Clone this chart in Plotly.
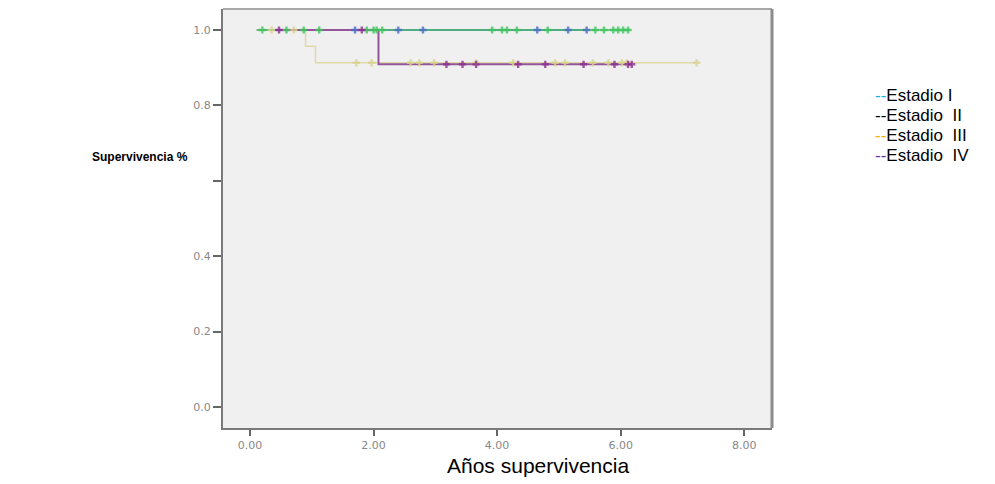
import plotly.graph_objects as go

# ---- data ----
groups = ["Estadio I", "Estadio II", "Estadio III", "Estadio IV"]

# step curves: time points and survival after each point
blue_t = [0.11, 5.45]
blue_s = [1.0, 1.0]
blue_ct = [1.70, 2.40, 2.80, 4.65, 5.15, 5.45]
blue_cs = [1.0, 1.0, 1.0, 1.0, 1.0, 1.0]

green_t = [0.11, 6.15]
green_s = [1.0, 1.0]
green_ct = [0.20, 0.59, 0.87, 1.12, 1.89, 2.00, 2.05, 2.14, 3.92, 4.08, 4.16,
            4.32, 4.82, 5.59, 5.73, 5.88, 5.96, 6.04, 6.12]
green_cs = [1.0] * len(green_ct)

yellow_t = [0.11, 0.90, 1.06, 7.23]
yellow_s = [1.0, 0.957, 0.913, 0.913]
yellow_ct = [0.35, 0.71, 1.72, 1.97, 2.60, 2.74, 2.98, 3.66, 4.26, 4.94, 5.10,
             5.55, 5.80, 6.02, 6.10, 7.23]
yellow_cs = [1.0, 1.0] + [0.913] * 14

purple_t = [0.40, 2.08, 6.18]
purple_s = [1.0, 0.909, 0.909]
purple_ct = [0.47, 1.81, 3.18, 3.44, 3.66, 4.34, 4.78, 5.40, 5.90, 6.12, 6.18]
purple_cs = [1.0, 1.0] + [0.909] * 9

x_ticks = [0, 2, 4, 6, 8]
x_tick_labels = ["0.00", "2.00", "4.00", "6.00", "8.00"]
y_ticks = [0.0, 0.2, 0.4, 0.6, 0.8, 1.0]
y_tick_labels = ["0.0", "0.2", "0.4", "", "0.8", "1.0"]

legend_dash_colors = ["#1aaee8", "#000000", "#f2b100", "#7030a0"]
legend_labels = ["Estadio I", "Estadio  II", "Estadio  III", "Estadio  IV"]

# ---- figure ----
fig = go.Figure()

series = [
    (blue_t, blue_s, blue_ct, blue_cs, "#4a6cc4", "#4a6cc4", 1.5),
    (yellow_t, yellow_s, yellow_ct, yellow_cs, "#dedaa8", "#d8d28e", 1.5),
    (green_t, green_s, green_ct, green_cs, "#45b76a", "#3fc45c", 1.5),
    (purple_t, purple_s, purple_ct, purple_cs, "#94549a", "#8a2f8e", 2),
]
for t, s, ct, cs, lc, mc, w in series:
    fig.add_trace(go.Scatter(x=t, y=s, mode="lines", line=dict(color=lc, width=w, shape="hv"),
                             hoverinfo="skip", showlegend=False))
for t, s, ct, cs, lc, mc, w in series:
    fig.add_trace(go.Scatter(x=ct, y=cs, mode="markers",
                             marker=dict(symbol="cross", size=6, color=mc, opacity=0.8),
                             hoverinfo="skip", showlegend=False))

x0, x1 = -0.437, 8.45
y0, y1 = -0.0557, 1.0557

fig.update_layout(
    width=995, height=484,
    margin=dict(l=223, r=223, t=9, b=56),
    paper_bgcolor="white", plot_bgcolor="#f0f0f0",
    showlegend=False,
    font=dict(family="Liberation Sans, Arial, sans-serif"),
    xaxis=dict(range=[x0, x1], tickvals=x_ticks, ticktext=x_tick_labels,
               showgrid=False, zeroline=False, showline=True, linecolor="#7a7a7a", linewidth=2,
               ticks="outside", ticklen=6, tickwidth=2, tickcolor="#666",
               tickfont=dict(family="DejaVu Sans", size=11, color="#888")),
    yaxis=dict(range=[y0, y1], tickvals=y_ticks, ticktext=y_tick_labels,
               showgrid=False, zeroline=False, showline=True, linecolor="#7a7a7a", linewidth=2,
               ticks="outside", ticklen=8, tickwidth=2, tickcolor="#666",
               tickfont=dict(family="DejaVu Sans", size=11, color="#888")),
)

# frame top and right
fig.add_shape(type="line", xref="paper", yref="paper", x0=0, x1=1, y0=1, y1=1,
              line=dict(color="#a8a8a8", width=2))
fig.add_shape(type="line", xref="paper", yref="paper", x0=1, x1=1, y0=0, y1=1,
              line=dict(color="#8c8c8c", width=3))

# axis titles
fig.add_annotation(text="<b>Supervivencia %</b>", xref="paper", yref="paper",
                   x=(90 - 223) / 549, y=(428 - 157) / 419, xanchor="left", yanchor="middle",
                   showarrow=False, font=dict(size=12, color="black"))
fig.add_annotation(text="Años supervivencia", xref="paper", yref="paper",
                   x=(538 - 223) / 549, y=-(466 - 428) / 419, xanchor="center", yanchor="middle",
                   showarrow=False, font=dict(size=21, color="black"))

# legend text
ys = [95, 115, 135, 155]
for lab, col, yy in zip(legend_labels, legend_dash_colors, ys):
    fig.add_annotation(text=f"<span style='color:{col}'>--</span>{lab}", xref="paper", yref="paper",
                       x=(874 - 223) / 549, y=(428 - yy) / 419, xanchor="left", yanchor="middle",
                       borderpad=0,
                       showarrow=False, font=dict(size=17, color="black"), align="left")

fig.write_html("out.html", config={"displayModeBar": False},
               post_script="document.body.style.margin='0';")
